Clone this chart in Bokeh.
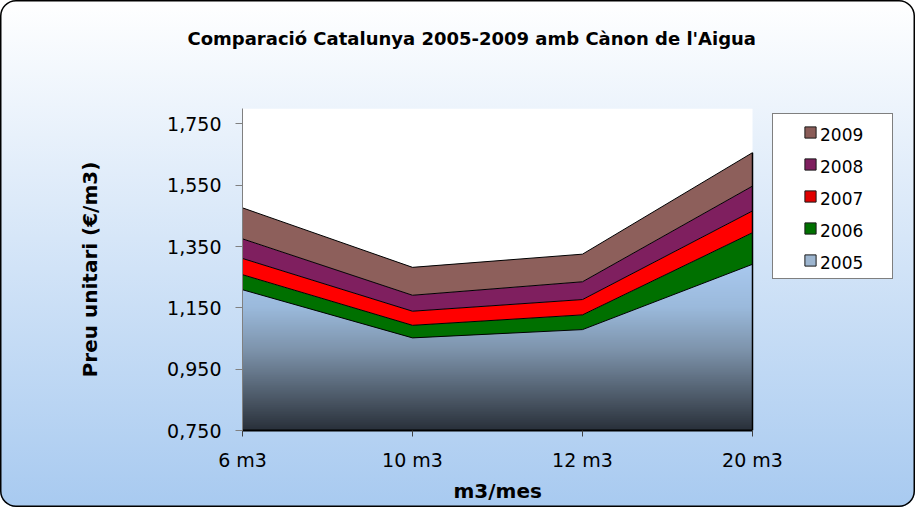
import numpy as np
from bokeh.plotting import figure
from bokeh.models import (Range1d, FixedTicker, CustomJSTickFormatter, Legend,
                          LegendItem, Title)
from bokeh.embed import file_html
from bokeh.resources import INLINE

# ---------------- data ----------------
title_text = "Comparació Catalunya 2005-2009 amb Cànon de l'Aigua"
x_title = "m3/mes"
y_title = "Preu unitari (€/m3)"
categories = ["6 m3", "10 m3", "12 m3", "20 m3"]
years = ["2005", "2006", "2007", "2008", "2009"]
price_2005 = [1.209, 1.052, 1.079, 1.292]
price_2006 = [1.258, 1.093, 1.127, 1.395]
price_2007 = [1.311, 1.139, 1.177, 1.466]
price_2008 = [1.375, 1.191, 1.235, 1.547]
price_2009 = [1.476, 1.282, 1.325, 1.656]
y_ticks = [0.75, 0.95, 1.15, 1.35, 1.55, 1.75]
y_start, y_end = 0.75, 1.80

# ---------------- styles / layout ----------------
band_colors = ["#007000", "#ff0000", "#7f1f5f", "#8d5f5b"]          # 2006..2009
legend_colors = ["#9db5cf", "#007000", "#e00000", "#7f1f5f", "#8a5c58"]  # 2005..2009
grad_pos = [0.0, 0.18, 0.48, 0.74, 1.0]
grad_col = ["#29303a", "#4a5664", "#7d93ab", "#9bbadc", "#a9c9ef"]
FONT = "DejaVu Sans"
W, H = 915, 507
frame_left, data_right, frame_right = 242, 752, 905   # px: plot area ends at data_right

series = [price_2005, price_2006, price_2007, price_2008, price_2009]
xs = list(range(len(categories)))
x_end = xs[-1] + (xs[-1] - xs[0]) * (frame_right - data_right) / (data_right - frame_left)

p = figure(width=W, height=H, output_backend="svg", toolbar_location=None,
           x_range=Range1d(xs[0], x_end), y_range=Range1d(y_start, y_end),
           min_border_left=frame_left, min_border_right=W - frame_right,
           min_border_top=108, min_border_bottom=77)
p.title.visible = False
p.background_fill_color = None
p.border_fill_color = None
p.outline_line_color = None
p.styles = {
    "background": "linear-gradient(180deg, #ffffff 0%, #a8caf0 100%)",
    "border-radius": "16px",
    "box-shadow": "inset 0 0 0 1.5px #000000",
}
p.xgrid.visible = False
p.ygrid.visible = False

# gradient fill for the 2005 area (image under the bands)
n = 256
t = (np.arange(n) + 0.5) / n
def hex2rgb(h):
    return [int(h[i:i + 2], 16) for i in (1, 3, 5)]
rgb = np.array([hex2rgb(c) for c in grad_col], dtype=float)
img = np.empty((n, 2), dtype=np.uint32)
view = img.view(dtype=np.uint8).reshape((n, 2, 4))
for k in range(3):
    view[:, :, k] = np.interp(t, grad_pos, rgb[:, k])[:, None].astype(np.uint8)
view[:, :, 3] = 255
p.image_rgba(image=[img], x=xs[0], y=y_start, dw=xs[-1] - xs[0],
             dh=max(price_2005) - y_start)

# white plot area above the top series
p.varea(x=xs, y1=price_2009, y2=[y_end] * len(xs), fill_color="white")
# stacked bands
for lower, upper, col in zip(series[:-1], series[1:], band_colors):
    p.varea(x=xs, y1=lower, y2=upper, fill_color=col)
for s in series:
    p.line(xs, s, line_color="black", line_width=1)
p.line([xs[-1], xs[-1]], [y_start, price_2009[-1]], line_color="black", line_width=1.5)
p.line([xs[0], xs[0]], [y_start, price_2009[0]], line_color="black", line_width=1)

# axes
p.xaxis.bounds = (xs[0], xs[-1])
p.xaxis.ticker = FixedTicker(ticks=xs)
p.xaxis.major_label_overrides = {i: c for i, c in zip(xs, categories)}
p.yaxis.ticker = FixedTicker(ticks=y_ticks)
p.yaxis.formatter = CustomJSTickFormatter(code="return tick.toFixed(3).replace('.', ',');")
p.axis.minor_tick_line_color = None
p.axis.major_tick_in = 0
p.axis.major_label_text_font = FONT
p.axis.major_label_text_font_size = "19px"
p.axis.major_label_text_color = "black"
p.axis.axis_label_text_font = FONT
p.axis.axis_label_text_font_style = "bold"
p.axis.axis_label_text_color = "black"
p.yaxis.axis_label = y_title
p.yaxis.axis_label_text_font_size = "20px"
p.xaxis.axis_line_color = "black"
p.xaxis.axis_line_width = 2
p.xaxis.major_tick_out = 6
p.xaxis.major_tick_line_color = "#404040"
p.xaxis.major_label_standoff = 12
p.yaxis.axis_line_color = "#808080"
p.yaxis.major_tick_out = 7
p.yaxis.major_tick_line_color = "#808080"
p.yaxis.major_label_standoff = 14
p.yaxis.axis_label_standoff = 62

# x axis title centred under the plot area (frame extends under the legend)
x_title_width = 88  # approx. rendered width of the bold 20px label
p.add_layout(Title(text=x_title, align="left", vertical_align="bottom",
                   offset=(data_right - frame_left) / 2 - x_title_width / 2,
                   text_font=FONT, text_font_size="20px", text_font_style="bold",
                   text_color="black", standoff=6), "below")

# titles (spacer first so it sits next to the frame)
p.add_layout(Title(text=" ", text_font_size="39px"), "above")
p.add_layout(Title(text=title_text, align="left", offset=-55, text_font=FONT,
                   text_font_size="18px", text_font_style="bold",
                   text_color="black"), "above")

# legend: box + swatches, then the labels laid over it
legend_loc = (530, 151)
common = dict(location=legend_loc, orientation="vertical", padding=2, spacing=0,
              margin=0, glyph_height=28, label_height=32, label_standoff=0,
              label_text_font=FONT, label_text_font_size="17px",
              label_text_color="black")
swatch_items, label_items = [], []
for yr, col in zip(years, legend_colors):
    r = p.scatter(x=[np.nan], y=[np.nan], marker="square", fill_color=col,
                  line_color="#1a1a1a", line_width=1)
    swatch_items.append(LegendItem(label=" ", renderers=[r]))
    r2 = p.scatter(x=[np.nan], y=[np.nan], marker="square", fill_alpha=0,
                   line_alpha=0)
    label_items.append(LegendItem(label=yr, renderers=[r2]))
box_legend = Legend(items=swatch_items[::-1], glyph_width=70, label_width=45,
                    border_line_color="black", border_line_width=1,
                    background_fill_color="white", background_fill_alpha=1,
                    **common)
text_legend = Legend(items=label_items[::-1], glyph_width=48, label_width=45,
                     border_line_color=None, background_fill_color=None,
                     **common)
p.add_layout(box_legend, "center")
p.add_layout(text_legend, "center")

open("out.html", "w").write(file_html(p, INLINE))
